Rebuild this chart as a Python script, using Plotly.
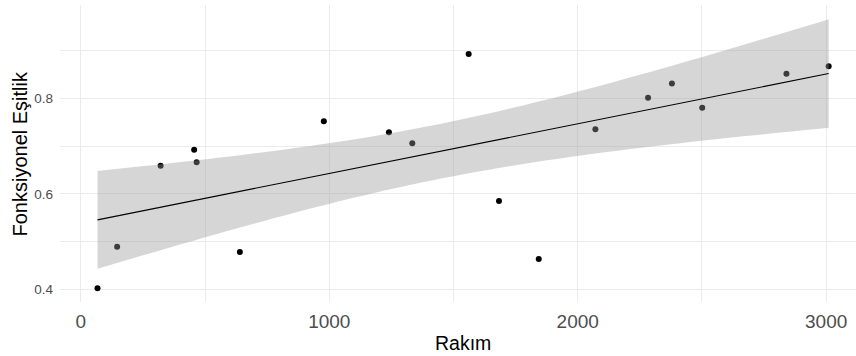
import numpy as np
import plotly.graph_objects as go

# Data
rakim = [67, 146, 321, 456, 466, 640, 978, 1240, 1334, 1561, 1683, 1843,
         2071, 2283, 2379, 2501, 2840, 3010]
esitlik = [0.402, 0.489, 0.659, 0.692, 0.666, 0.478, 0.752, 0.729, 0.706,
           0.893, 0.585, 0.4635, 0.735, 0.801, 0.831, 0.780, 0.8515, 0.867]
x_ticks = [0, 1000, 2000, 3000]
y_ticks = [0.4, 0.6, 0.8]
x_title = "Rakım"
y_title = "Fonksiyonel Eşitlik"

# Linear model with 95% confidence band (like geom_smooth(method="lm"))
x = np.array(rakim, dtype=float)
y = np.array(esitlik, dtype=float)
n = len(x)
b1, b0 = np.polyfit(x, y, 1)
resid = y - (b0 + b1 * x)
s = np.sqrt(np.sum(resid ** 2) / (n - 2))
sxx = np.sum((x - x.mean()) ** 2)
t_crit = 2.119905  # t(0.975, df=16)
xs = np.linspace(x.min(), x.max(), 80)
fit = b0 + b1 * xs
se = s * np.sqrt(1.0 / n + (xs - x.mean()) ** 2 / sxx)
lo = fit - t_crit * se
hi = fit + t_crit * se

fig = go.Figure()
fig.add_trace(go.Scatter(x=rakim, y=esitlik, mode="markers",
                         marker=dict(color="black", size=6), hoverinfo="skip",
                         showlegend=False))
fig.add_trace(go.Scatter(x=np.concatenate([xs, xs[::-1]]),
                         y=np.concatenate([hi, lo[::-1]]),
                         fill="toself", fillcolor="rgba(153,153,153,0.4)",
                         mode="none", line=dict(width=0), hoverinfo="skip",
                         showlegend=False))
fig.add_trace(go.Scatter(x=xs, y=fit, mode="lines",
                         line=dict(color="black", width=1.1), hoverinfo="skip",
                         showlegend=False))

font = "Liberation Sans, Arial, sans-serif"
grid = "#ebebeb"
fig.update_layout(
    width=856, height=356,
    margin=dict(l=60, r=0, t=5, b=54),
    paper_bgcolor="white", plot_bgcolor="white",
    font=dict(family=font, color="black"),
    showlegend=False,
    xaxis=dict(range=[-84, 3120], tickvals=x_ticks, ticktext=[str(v) for v in x_ticks],
               showgrid=True, gridcolor=grid, gridwidth=1.1,
               minor=dict(dtick=500, tick0=0, showgrid=True, gridcolor=grid, gridwidth=0.6),
               zeroline=False, showline=False, ticks="",
               tickfont=dict(size=19, color="#4d4d4d", family=font),
               ticklabelstandoff=6, automargin=False),
    yaxis=dict(range=[0.3734, 0.9954], tickvals=y_ticks, ticktext=["0.4", "0.6", "0.8"],
               showgrid=True, gridcolor=grid, gridwidth=1.1,
               minor=dict(dtick=0.1, tick0=0.4, showgrid=True, gridcolor=grid, gridwidth=0.6),
               zeroline=False, showline=False, ticks="",
               tickfont=dict(size=13.5, color="#4d4d4d", family=font),
               ticklabelstandoff=6, automargin=False),
    annotations=[
        dict(text=x_title, xref="paper", yref="paper", x=0.5, y=0, xshift=5, yshift=-41,
             xanchor="center", yanchor="middle", showarrow=False,
             font=dict(size=19.5, color="black", family=font)),
        dict(text=y_title, xref="paper", yref="paper", x=0, y=0.5, xshift=-41,
             xanchor="center", yanchor="middle", textangle=-90, showarrow=False,
             font=dict(size=20, color="black", family=font)),
    ],
)

fig.write_html("out.html", config={"displayModeBar": False},
               post_script="document.body.style.margin='0';document.body.style.overflow='hidden';")
